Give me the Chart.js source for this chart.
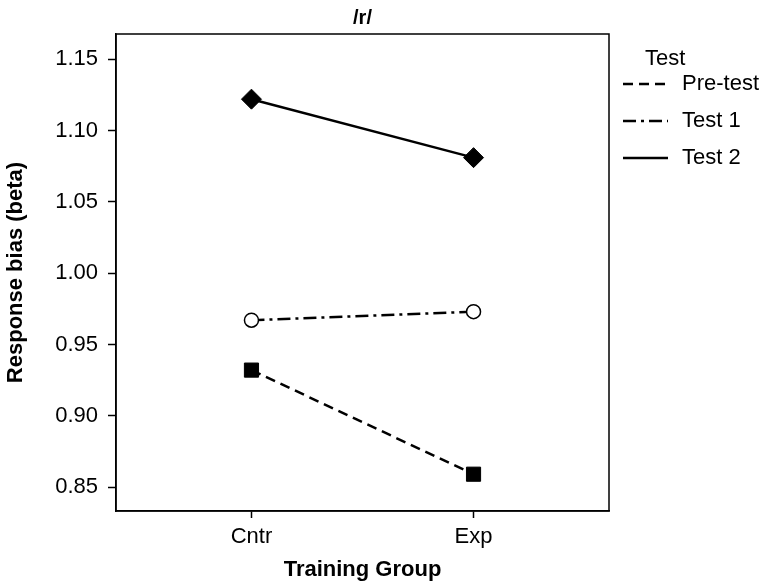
<!DOCTYPE html>
<html>
<head>
<meta charset="utf-8">
<script src="https://cdn.jsdelivr.net/npm/chart.js@4/dist/chart.umd.min.js"></script>
<style>
  html, body { margin: 0; padding: 0; background: #fff; }
  #wrap { width: 765px; height: 584px; position: relative; }
</style>
</head>
<body>
<div id="wrap"><canvas id="c"></canvas></div>
<script>
// Training groups on the x axis (placed at positions 1 and 2)
const categories = ['Cntr', 'Exp'];
const groupPositions = [1, 2];

// Response bias (beta) per test session
const preTest = [0.932, 0.859];
const test1   = [0.967, 0.973];
const test2   = [1.122, 1.081];

const seriesNames = ['Pre-test', 'Test 1', 'Test 2'];
const yTickValues = [0.85, 0.90, 0.95, 1.00, 1.05, 1.10, 1.15];
const chartTitle = '/r/';
const legendTitle = 'Test';

const FONT = "'Liberation Sans', Arial, Helvetica, sans-serif";

function points(values) {
  return values.map((v, i) => ({ x: groupPositions[i], y: v }));
}

// Frame around the plotting area, the title centred over it, and the line-style legend
const frameAndLegend = {
  id: 'frameAndLegend',
  afterDraw(chart) {
    const { ctx, chartArea: a } = chart;
    ctx.save();
    ctx.strokeStyle = '#000';
    ctx.lineWidth = 1.5;
    ctx.setLineDash([]);
    ctx.strokeRect(a.left, a.top, a.right - a.left, a.bottom - a.top);

    ctx.fillStyle = '#000';
    ctx.textBaseline = 'middle';
    ctx.textAlign = 'center';
    ctx.font = 'bold 20px ' + FONT;
    ctx.fillText(chartTitle, (a.left + a.right) / 2, 18.5);

    const x0 = a.right + 14;
    ctx.textAlign = 'left';
    ctx.font = '22px ' + FONT;
    ctx.fillText(legendTitle, x0 + 22, 59);

    const rows = [84, 121, 158];
    chart.data.datasets.forEach((ds, i) => {
      const y = rows[i];
      ctx.beginPath();
      ctx.lineWidth = ds.borderWidth;
      ctx.setLineDash(ds.borderDash || []);
      ctx.moveTo(x0, y);
      ctx.lineTo(x0 + 45, y);
      ctx.stroke();
      ctx.setLineDash([]);
      ctx.fillText(ds.label, x0 + 59, y);
    });
    ctx.restore();
  }
};

new Chart(document.getElementById('c'), {
  type: 'line',
  data: {
    datasets: [
      {
        label: seriesNames[0],
        data: points(preTest),
        borderColor: '#000',
        borderWidth: 2.5,
        borderDash: [10, 6],
        pointStyle: 'rect',
        pointRadius: 10,
        pointBackgroundColor: '#000',
        pointBorderColor: '#000',
        pointBorderWidth: 1
      },
      {
        label: seriesNames[1],
        data: points(test1),
        borderColor: '#000',
        borderWidth: 2.5,
        borderDash: [13, 5, 3, 5],
        pointStyle: 'circle',
        pointRadius: 7,
        pointBackgroundColor: '#fff',
        pointBorderColor: '#000',
        pointBorderWidth: 1.5
      },
      {
        label: seriesNames[2],
        data: points(test2),
        borderColor: '#000',
        borderWidth: 2.5,
        borderDash: [],
        pointStyle: 'rectRot',
        pointRadius: 10,
        pointBackgroundColor: '#000',
        pointBorderColor: '#000',
        pointBorderWidth: 1
      }
    ]
  },
  options: {
    responsive: true,
    maintainAspectRatio: false,
    animation: false,
    layout: { padding: { left: 0, right: 156, top: 34, bottom: 0 } },
    plugins: {
      legend: { display: false },
      tooltip: { enabled: false },
      title: { display: false }
    },
    scales: {
      x: {
        type: 'linear',
        min: 0.39,
        max: 2.61,
        afterBuildTicks(scale) {
          scale.ticks = groupPositions.map(v => ({ value: v }));
        },
        afterFit(scale) { scale.height = 73; },
        ticks: {
          color: '#000',
          padding: 6,
          font: { family: FONT, size: 22 },
          callback: (v) => categories[groupPositions.indexOf(v)]
        },
        grid: {
          display: true,
          drawOnChartArea: false,
          drawTicks: true,
          tickLength: 7,
          tickWidth: 1.5,
          tickColor: '#000'
        },
        border: { display: true, color: '#000', width: 1.5 },
        title: {
          display: true,
          text: 'Training Group',
          color: '#000',
          font: { family: FONT, size: 22, weight: 'bold' },
          padding: { top: 0, bottom: 1 }
        }
      },
      y: {
        type: 'linear',
        min: 0.8332,
        max: 1.1677,
        afterBuildTicks(scale) {
          scale.ticks = yTickValues.map(v => ({ value: v }));
        },
        afterFit(scale) { scale.width = 116; },
        ticks: {
          color: '#000',
          padding: 10,
          font: { family: FONT, size: 22 },
          callback: (v) => Number(v).toFixed(2)
        },
        grid: {
          display: true,
          drawOnChartArea: false,
          drawTicks: true,
          tickLength: 8,
          tickWidth: 1.5,
          tickColor: '#000'
        },
        border: { display: true, color: '#000', width: 1.5 },
        title: {
          display: true,
          text: 'Response bias (beta)',
          color: '#000',
          font: { family: FONT, size: 22, weight: 'bold' },
          padding: { top: 3, bottom: 0 }
        }
      }
    }
  },
  plugins: [frameAndLegend]
});
</script>
</body>
</html>
